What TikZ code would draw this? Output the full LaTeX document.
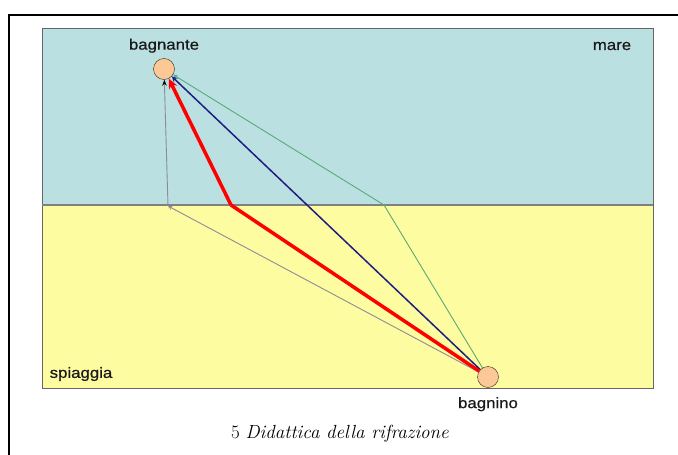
\documentclass[tikz,border=0pt]{standalone}
\usepackage{fontspec}
\usetikzlibrary{arrows.meta}
\newfontfamily\labelfont[FakeStretch=1.12,FakeBold=0.6]{Liberation Sans}
\definecolor{mare}{RGB}{186,224,226}
\definecolor{sabbia}{RGB}{254,252,160}
\definecolor{pesca}{RGB}{252,200,150}
\definecolor{blu}{RGB}{30,30,130}
\definecolor{verde}{RGB}{90,170,120}
\definecolor{grigio}{RGB}{140,140,150}
\begin{document}
\begin{tikzpicture}[x=1pt,y=-1pt,->,>=stealth,
		persona/.style={circle,draw=black!70!brown,fill=pesca,minimum size=21pt,inner sep=0},
		scritta/.style={font=\labelfont\fontsize{15}{17}\selectfont,text=black!90}]
		\useasboundingbox (0,0) rectangle (678,455);
		% cornice e sfondo
		\draw[-,line width=1.6pt] (9,455) -- (9,15) -- (678,15);
		\fill[mare] (42,28) rectangle (653,205);
		\fill[sabbia] (42,205) rectangle (653,388);
		\draw[-,black!60] (42,28) rectangle (653,388);
		\draw[-,gray,line width=1.5pt] (42,205) -- (653,205);
		% persone
		\node[persona] (bagnante) at (164,69) {};
		\node[persona] (bagnino) at (488,377) {};
		\coordinate (pr) at (231,205);
		\coordinate (pg) at (384,205);
		\coordinate (ps) at (168,206);
		% percorsi
		\draw[grigio,line width=0.9pt] (bagnino) -- (ps);
		\draw[grigio,line width=0.9pt,-{Stealth[black,length=6pt]}] (ps) -- (bagnante);
		\draw[-,verde,line width=0.9pt] (bagnino) -- (pg); \draw[verde,line width=0.9pt] (pg) -- (bagnante);
		\draw[blu,line width=1.5pt] (bagnino) -- (bagnante);
		\draw[-,red,line width=3.5pt] (bagnino) -- (pr);
		\draw[red,line width=3.5pt,-{Stealth[length=10pt,width=9pt]}] (pr) -- (bagnante);
		% scritte
		\node[scritta] (tbagnante) at (bagnante.north) [above=2pt] {bagnante};
		\node[scritta] (tmare) at (612,46) {mare};
		\node[scritta] (tspiaggia) at (81,374) {spiaggia};
		\node[scritta] (tbagnino) at (bagnino.south) [below=6pt] {bagnino};
		\node[font=\fontsize{19}{22}\selectfont] (didascalia) at (340,434) {5 \textit{Didattica della rifrazione}};
	\end{tikzpicture}
\end{document}
